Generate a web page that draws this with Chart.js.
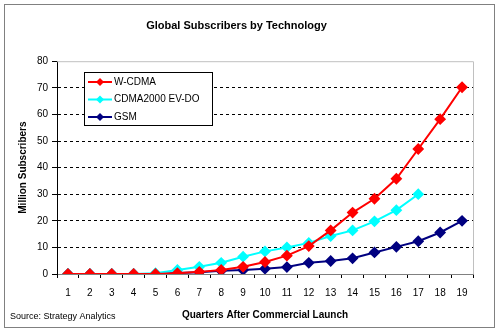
<!DOCTYPE html>
<html>
<head>
<meta charset="utf-8">
<script src="https://cdn.jsdelivr.net/npm/chart.js@4"></script>
<style>
  html, body { margin: 0; padding: 0; background: #fff; }
  #wrap { width: 500px; height: 334px; position: relative; }
</style>
</head>
<body>
<div id="wrap"><canvas id="chart" width="500" height="334"></canvas></div>
<script>
// quarters after launch
const quarters = ['1','2','3','4','5','6','7','8','9','10','11','12','13','14','15','16','17','18','19'];

// million subscribers per quarter
const wcdma = [0, 0, 0, 0, 0, 0.3, 0.8, 1.5, 2.7, 4.5, 6.9, 10.5, 16.4, 23.1, 28.3, 35.8, 47, 58.2, 70.2];
const cdma2000 = [0, 0, 0, 0, 0.3, 1.5, 2.7, 4.2, 6.5, 8.5, 10, 11.7, 14.3, 16.4, 19.8, 24, 30];
const gsm = [0, 0, 0, 0, 0, 0.4, 0.7, 1.2, 1.5, 2.0, 2.6, 4.2, 4.9, 5.9, 8.1, 10.2, 12.3, 15.6, 20];

const yTicks = [0, 10, 20, 30, 40, 50, 60, 70, 80];

const FONT = 'Liberation Sans, Arial, sans-serif';

// frame, plot border, legend box and source line
const decorations = {
    id: 'decorations',
    beforeDraw(chart) {
        const ctx = chart.ctx;
        ctx.save();
        ctx.fillStyle = '#fff';
        ctx.fillRect(0, 0, chart.width, chart.height);
        ctx.restore();
    },
    afterDraw(chart) {
        const ctx = chart.ctx;
        const a = chart.chartArea;
        ctx.save();
        // outer frame
        ctx.strokeStyle = '#808080';
        ctx.lineWidth = 1;
        ctx.strokeRect(4.5, 4.5, 490, 323);
        // plot border (top / right)
        ctx.strokeStyle = '#c0c0c0';
        ctx.beginPath();
        ctx.moveTo(a.left, a.top + 0.5);
        ctx.lineTo(a.right + 0.5, a.top + 0.5);
        ctx.lineTo(a.right + 0.5, a.bottom);
        ctx.stroke();

        // legend
        const lx = 84, ly = 72, lw = 128, lh = 53;
        ctx.fillStyle = '#fff';
        ctx.fillRect(lx, ly, lw, lh);
        ctx.strokeStyle = '#000';
        ctx.strokeRect(lx + 0.5, ly + 0.5, lw, lh);
        ctx.font = '10px ' + FONT;
        ctx.textBaseline = 'middle';
        chart.data.datasets.forEach((ds, i) => {
            const y = ly + 10 + i * 17.5;
            ctx.strokeStyle = ds.borderColor;
            ctx.lineWidth = 2;
            ctx.beginPath();
            ctx.moveTo(88, y);
            ctx.lineTo(112, y);
            ctx.stroke();
            ctx.fillStyle = ds.borderColor;
            ctx.beginPath();
            ctx.moveTo(100, y - 4);
            ctx.lineTo(104, y);
            ctx.lineTo(100, y + 4);
            ctx.lineTo(96, y);
            ctx.closePath();
            ctx.fill();
            ctx.fillStyle = '#000';
            ctx.fillText(ds.label, 114, y);
        });

        // source note
        ctx.font = '9px ' + FONT;
        ctx.fillStyle = '#000';
        ctx.textAlign = 'left';
        ctx.fillText('Source: Strategy Analytics', 10, 317);
        ctx.restore();
    }
};

function series(label, data, color) {
    return {
        label: label,
        data: data,
        borderColor: color,
        backgroundColor: color,
        borderWidth: 2,
        pointStyle: 'rectRot',
        pointRadius: 4.5,
        pointHoverRadius: 4.5,
        tension: 0
    };
}

new Chart(document.getElementById('chart'), {
    type: 'line',
    data: {
        labels: quarters,
        datasets: [
            series('W-CDMA', wcdma, '#ff0000'),
            series('CDMA2000 EV-DO', cdma2000, '#00ffff'),
            series('GSM', gsm, '#000080')
        ]
    },
    options: {
        responsive: false,
        animation: false,
        layout: { padding: { left: 0, right: 27, top: 0, bottom: 0 } },
        plugins: {
            legend: { display: false },
            tooltip: { enabled: false },
            title: {
                display: true,
                text: 'Global Subscribers by Technology',
                color: '#000',
                font: { family: FONT, size: 11, weight: 'bold' },
                padding: { top: 19, bottom: 29 }
            }
        },
        scales: {
            x: {
                offset: true,
                afterFit: (s) => { s.height = 60; },
                grid: {
                    offset: true,
                    drawOnChartArea: false,
                    tickLength: 4,
                    color: '#000'
                },
                border: { color: '#808080' },
                ticks: { color: '#000', padding: 9, font: { family: FONT, size: 10 }, maxRotation: 0 },
                title: {
                    display: true,
                    text: 'Quarters After Commercial Launch',
                    color: '#000',
                    font: { family: FONT, size: 10, weight: 'bold' },
                    padding: { top: 4, bottom: 13 }
                }
            },
            y: {
                min: 0,
                max: 80,
                afterFit: (s) => { s.width = 57; },
                afterBuildTicks: (s) => { s.ticks = yTicks.map(v => ({ value: v })); },
                grid: {
                    color: (c) => (c.tick && c.tick.value > 0 && c.tick.value < 80) ? '#000' : 'rgba(0,0,0,0)',
                    tickColor: '#000',
                    tickLength: 5,
                    borderDash: [3, 3],
                    tickBorderDash: [0, 0],
                    lineWidth: 1
                },
                border: { color: '#000', dash: [3, 3] },
                ticks: { color: '#000', padding: 4, font: { family: FONT, size: 10 } },
                title: {
                    display: true,
                    text: 'Million Subscribers',
                    color: '#000',
                    font: { family: FONT, size: 10, weight: 'bold' },
                    padding: { top: 17, bottom: 4 }
                }
            }
        }
    },
    plugins: [decorations]
});
</script>
</body>
</html>
